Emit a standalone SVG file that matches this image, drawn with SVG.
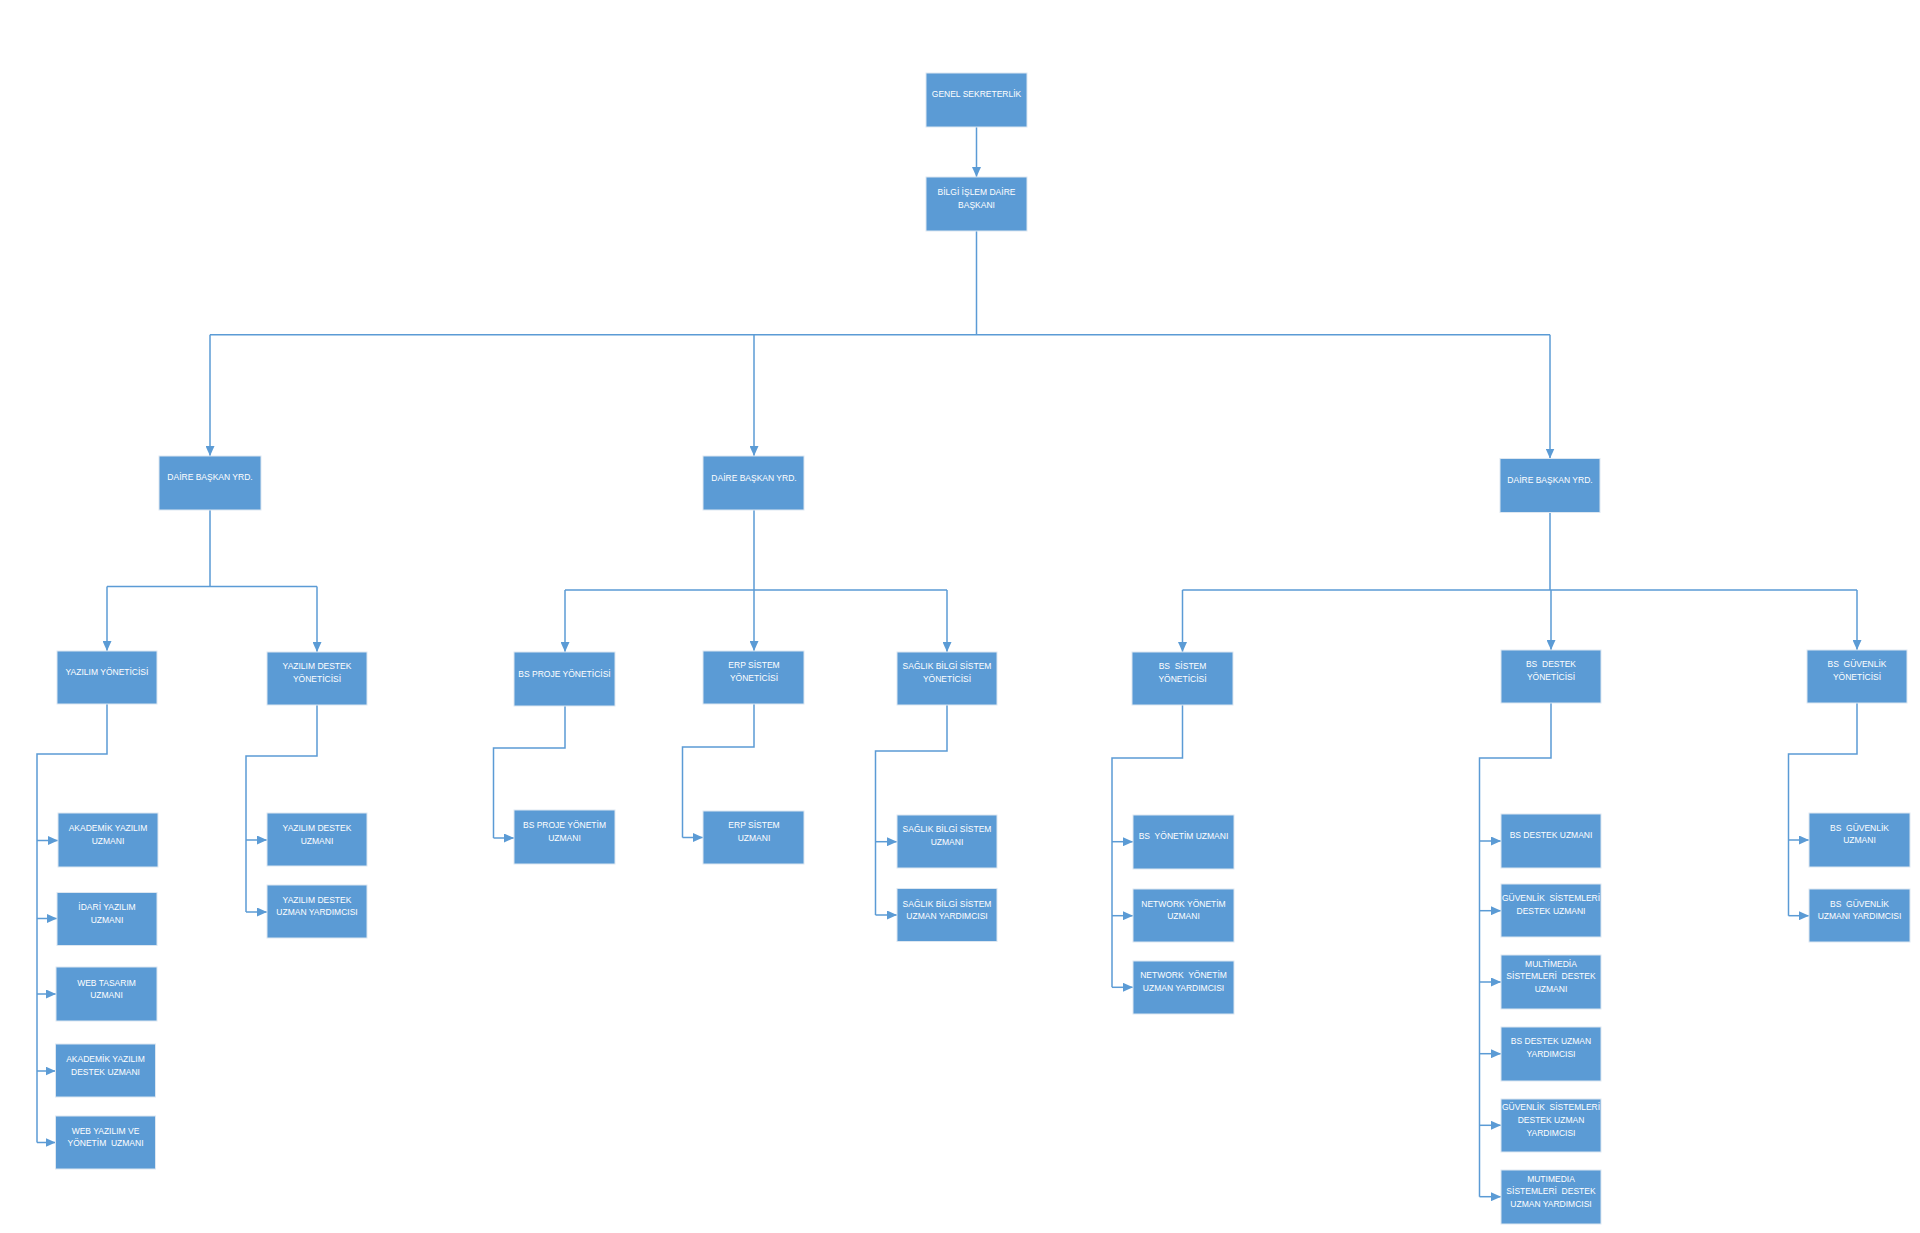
<svg xmlns="http://www.w3.org/2000/svg" width="1920" height="1233" viewBox="0 0 1920 1233">
<style>
.box{fill:#5B9BD5;stroke:#dde7f1;stroke-width:1}
.t{fill:#ffffff;font-family:"Liberation Sans",Arial,sans-serif;font-size:8.5px;text-anchor:middle;white-space:pre}
.c{fill:none;stroke:#5B9BD5;stroke-width:1.5}
.a{marker-end:url(#arr)}
</style>
<defs>
<marker id="arr" markerUnits="userSpaceOnUse" markerWidth="10" markerHeight="9" refX="10" refY="4.5" orient="auto">
<path d="M0,0 L10,4.5 L0,9 z" fill="#5B9BD5"/>
</marker>
</defs>
<rect width="1920" height="1233" fill="#ffffff"/>
<g id="connectors">
<path class="c a" d="M976.5,127 V177"/>
<path class="c" d="M976.5,231 V334.7 M210,334.7 H1550"/>
<path class="c a" d="M210,334.7 V456"/>
<path class="c a" d="M754,334.7 V456"/>
<path class="c a" d="M1550,334.7 V458.5"/>
<path class="c" d="M210,510 V586.5 M107,586.5 H317"/>
<path class="c a" d="M107,586.5 V651"/>
<path class="c a" d="M317,586.5 V652"/>
<path class="c" d="M754,510 V590 M565,590 H947"/>
<path class="c a" d="M565,590 V652"/>
<path class="c a" d="M754,590 V651"/>
<path class="c a" d="M947,590 V652"/>
<path class="c" d="M1550,512.5 V590 M1182.5,590 H1857"/>
<path class="c a" d="M1182.5,590 V652"/>
<path class="c a" d="M1551,590 V650"/>
<path class="c a" d="M1857,590 V650"/>
<path class="c" d="M107,704 V754 H37 V1142.5"/>
<path class="c a" d="M37,840.5 H58"/>
<path class="c a" d="M37,918.5 H57"/>
<path class="c a" d="M37,994 H56"/>
<path class="c a" d="M37,1071 H55.5"/>
<path class="c a" d="M37,1142.5 H55.5"/>
<path class="c" d="M317,705 V756 H246 V912"/>
<path class="c a" d="M246,840 H267"/>
<path class="c a" d="M246,912 H267"/>
<path class="c" d="M565,706 V748 H493.5 V838"/>
<path class="c a" d="M493.5,838 H514"/>
<path class="c" d="M754,704 V747 H682.5 V837.5"/>
<path class="c a" d="M682.5,837.5 H703"/>
<path class="c" d="M947,705 V751 H875.5 V915"/>
<path class="c a" d="M875.5,841.7 H897"/>
<path class="c a" d="M875.5,915 H897"/>
<path class="c" d="M1182.5,705 V758 H1112 V987.3"/>
<path class="c a" d="M1112,841.7 H1133"/>
<path class="c a" d="M1112,915.7 H1133"/>
<path class="c a" d="M1112,987.3 H1133"/>
<path class="c" d="M1551,703 V758 H1479.5 V1196.7"/>
<path class="c a" d="M1479.5,841 H1501"/>
<path class="c a" d="M1479.5,910.7 H1501"/>
<path class="c a" d="M1479.5,982 H1501"/>
<path class="c a" d="M1479.5,1053.7 H1501"/>
<path class="c a" d="M1479.5,1125.3 H1501"/>
<path class="c a" d="M1479.5,1196.7 H1501"/>
<path class="c" d="M1857,703 V754 H1788.5 V915.7"/>
<path class="c a" d="M1788.5,840 H1809"/>
<path class="c a" d="M1788.5,915.7 H1809"/>
</g>
<g id="genel"><rect class="box" x="926" y="73" width="101" height="54"/><text class="t" x="976.5" y="96.5">GENEL SEKRETERLİK</text></g>
<g id="bilgi"><rect class="box" x="926" y="177" width="101" height="54"/><text class="t" x="976.5" y="195">BİLGİ İŞLEM DAİRE</text><text class="t" x="976.5" y="208">BAŞKANI</text></g>
<g id="dby1"><rect class="box" x="159" y="456" width="102" height="54"/><text class="t" x="210" y="480">DAİRE BAŞKAN YRD.</text></g>
<g id="dby2"><rect class="box" x="703" y="456" width="101" height="54"/><text class="t" x="754" y="480.5">DAİRE BAŞKAN YRD.</text></g>
<g id="dby3"><rect class="box" x="1500" y="458.5" width="100" height="54"/><text class="t" x="1550" y="483">DAİRE BAŞKAN YRD.</text></g>
<g id="yazilim-yon"><rect class="box" x="57" y="651" width="100" height="53"/><text class="t" x="107" y="675">YAZILIM YÖNETİCİSİ</text></g>
<g id="yazilim-destek-yon"><rect class="box" x="267" y="652" width="100" height="53"/><text class="t" x="317" y="669">YAZILIM DESTEK</text><text class="t" x="317" y="682">YÖNETİCİSİ</text></g>
<g id="bs-proje-yon"><rect class="box" x="514" y="652" width="101" height="54"/><text class="t" x="564.5" y="676.5">BS PROJE YÖNETİCİSİ</text></g>
<g id="erp-yon"><rect class="box" x="703" y="651" width="101" height="53"/><text class="t" x="754" y="668">ERP SİSTEM</text><text class="t" x="754" y="681">YÖNETİCİSİ</text></g>
<g id="saglik-yon"><rect class="box" x="897" y="652" width="100" height="53"/><text class="t" x="947" y="669">SAĞLIK BİLGİ SİSTEM</text><text class="t" x="947" y="682">YÖNETİCİSİ</text></g>
<g id="bs-sistem-yon"><rect class="box" x="1132" y="652" width="101" height="53"/><text class="t" x="1182.5" y="669">BS  SİSTEM</text><text class="t" x="1182.5" y="681.5">YÖNETİCİSİ</text></g>
<g id="bs-destek-yon"><rect class="box" x="1501" y="650" width="100" height="53"/><text class="t" x="1551" y="667">BS  DESTEK</text><text class="t" x="1551" y="680">YÖNETİCİSİ</text></g>
<g id="bs-guvenlik-yon"><rect class="box" x="1807" y="650" width="100" height="53"/><text class="t" x="1857" y="667">BS  GÜVENLİK</text><text class="t" x="1857" y="680">YÖNETİCİSİ</text></g>
<g id="akademik"><rect class="box" x="58" y="813" width="100" height="54"/><text class="t" x="108" y="831">AKADEMİK YAZILIM</text><text class="t" x="108" y="844">UZMANI</text></g>
<g id="idari"><rect class="box" x="57" y="892.5" width="100" height="53"/><text class="t" x="107" y="910">İDARİ YAZILIM</text><text class="t" x="107" y="922.5">UZMANI</text></g>
<g id="web-tasarim"><rect class="box" x="56" y="967" width="101" height="54"/><text class="t" x="106.5" y="985.5">WEB TASARIM</text><text class="t" x="106.5" y="998">UZMANI</text></g>
<g id="akademik-destek"><rect class="box" x="55.5" y="1044" width="100" height="53"/><text class="t" x="105.5" y="1062">AKADEMİK YAZILIM</text><text class="t" x="105.5" y="1074.5">DESTEK UZMANI</text></g>
<g id="web-yazilim"><rect class="box" x="55.5" y="1116" width="100" height="53"/><text class="t" x="105.5" y="1134">WEB YAZILIM VE</text><text class="t" x="105.5" y="1146">YÖNETİM  UZMANI</text></g>
<g id="yazilim-destek-uzm"><rect class="box" x="267" y="813" width="100" height="53"/><text class="t" x="317" y="830.5">YAZILIM DESTEK</text><text class="t" x="317" y="843.5">UZMANI</text></g>
<g id="yazilim-destek-yard"><rect class="box" x="267" y="885" width="100" height="53"/><text class="t" x="317" y="902.5">YAZILIM DESTEK</text><text class="t" x="317" y="915">UZMAN YARDIMCISI</text></g>
<g id="bs-proje-uzm"><rect class="box" x="514" y="810" width="101" height="54"/><text class="t" x="564.5" y="827.5">BS PROJE YÖNETİM</text><text class="t" x="564.5" y="840.5">UZMANI</text></g>
<g id="erp-uzm"><rect class="box" x="703" y="811" width="101" height="53"/><text class="t" x="754" y="827.5">ERP SİSTEM</text><text class="t" x="754" y="840.5">UZMANI</text></g>
<g id="saglik-uzm"><rect class="box" x="897" y="815" width="100" height="53"/><text class="t" x="947" y="832">SAĞLIK BİLGİ SİSTEM</text><text class="t" x="947" y="845">UZMANI</text></g>
<g id="saglik-yard"><rect class="box" x="897" y="888.5" width="100" height="53"/><text class="t" x="947" y="906.5">SAĞLIK BİLGİ SİSTEM</text><text class="t" x="947" y="919">UZMAN YARDIMCISI</text></g>
<g id="bs-yonetim-uzm"><rect class="box" x="1133" y="815" width="101" height="54"/><text class="t" x="1183.5" y="839">BS  YÖNETİM UZMANI</text></g>
<g id="network-uzm"><rect class="box" x="1133" y="889" width="101" height="53"/><text class="t" x="1183.5" y="906.5">NETWORK YÖNETİM</text><text class="t" x="1183.5" y="919">UZMANI</text></g>
<g id="network-yard"><rect class="box" x="1133" y="961" width="101" height="53"/><text class="t" x="1183.5" y="978">NETWORK  YÖNETİM</text><text class="t" x="1183.5" y="991">UZMAN YARDIMCISI</text></g>
<g id="bs-destek-uzm"><rect class="box" x="1501" y="814" width="100" height="54"/><text class="t" x="1551" y="838">BS DESTEK UZMANI</text></g>
<g id="guvenlik-destek-uzm"><rect class="box" x="1501" y="884" width="100" height="53"/><text class="t" x="1551" y="901">GÜVENLİK  SİSTEMLERİ</text><text class="t" x="1551" y="914">DESTEK UZMANI</text></g>
<g id="multimedia-uzm"><rect class="box" x="1501" y="955" width="100" height="54"/><text class="t" x="1551" y="966.5">MULTİMEDİA</text><text class="t" x="1551" y="979">SİSTEMLERİ  DESTEK</text><text class="t" x="1551" y="992">UZMANI</text></g>
<g id="bs-destek-yard"><rect class="box" x="1501" y="1027" width="100" height="54"/><text class="t" x="1551" y="1044">BS DESTEK UZMAN</text><text class="t" x="1551" y="1057">YARDIMCISI</text></g>
<g id="guvenlik-destek-yard"><rect class="box" x="1501" y="1099" width="100" height="53"/><text class="t" x="1551" y="1110">GÜVENLİK  SİSTEMLERİ</text><text class="t" x="1551" y="1122.5">DESTEK UZMAN</text><text class="t" x="1551" y="1135.5">YARDIMCISI</text></g>
<g id="multimedia-yard"><rect class="box" x="1501" y="1170" width="100" height="54"/><text class="t" x="1551" y="1181.5">MUTIMEDIA</text><text class="t" x="1551" y="1194">SİSTEMLERİ  DESTEK</text><text class="t" x="1551" y="1207">UZMAN YARDIMCISI</text></g>
<g id="bs-guvenlik-uzm"><rect class="box" x="1809" y="813" width="101" height="54"/><text class="t" x="1859.5" y="830.5">BS  GÜVENLİK</text><text class="t" x="1859.5" y="843">UZMANI</text></g>
<g id="bs-guvenlik-yard"><rect class="box" x="1809" y="889" width="101" height="53"/><text class="t" x="1859.5" y="906.5">BS  GÜVENLİK</text><text class="t" x="1859.5" y="919">UZMANI YARDIMCISI</text></g>
</svg>
